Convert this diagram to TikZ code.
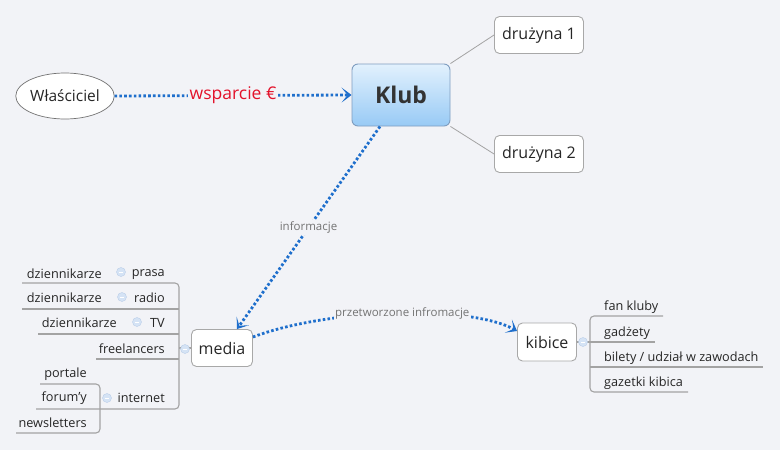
\documentclass[tikz,border=0pt]{standalone}
\usepackage{fontspec}
\setmainfont{Open Sans}
\usetikzlibrary{arrows.meta,shapes.geometric}
\definecolor{bgcol}{HTML}{F2F3F7}
\definecolor{flowblue}{HTML}{1F6FCC}
\definecolor{linegray}{HTML}{A3A3A3}
\definecolor{boxgray}{HTML}{A8A8A8}
\definecolor{klubtop}{HTML}{E2F1FD}
\definecolor{klubbot}{HTML}{98CAF5}
\definecolor{klubedge}{HTML}{7F9DC0}
\definecolor{supportred}{HTML}{E3122B}
\definecolor{knobfill}{HTML}{D5E3F5}
\definecolor{knobedge}{HTML}{BACDE8}

\tikzset{
  topic/.style={draw=boxgray, fill=white, rounded corners=5pt, line width=0.9pt,
    font=\fontsize{16}{18}\selectfont, text=black!85, inner sep=0pt},
  leaf/.style={font=\fontsize{12.7}{14}\selectfont, text=black!85, inner sep=0pt},
  flow/.style={flowblue, line width=2.8pt, dash pattern=on 2.6pt off 2.2pt,
    -{Stealth[length=10pt,width=15pt,inset=6pt]}},
  flowlabel/.style={fill=bgcol, inner sep=1.5pt, text=black!55,
    font=\fontsize{11.5}{13}\selectfont},
  branch/.style={linegray, line width=1.1pt, rounded corners=4pt},
  knob/.style={circle, draw=knobedge, fill=knobfill, minimum size=9pt, inner sep=0pt,
    path picture={\draw[white, line width=0.8pt] (-2pt,0) -- (2pt,0);}},
}

\begin{document}
\begin{tikzpicture}[x=1pt, y=-1pt]
  \fill[bgcol] (0,0) rectangle (780,450);
  \useasboundingbox (0,0) rectangle (780,450);

  \node[ellipse, draw=black!55, fill=white, line width=0.7pt, minimum width=93pt, minimum height=46pt,
    inner sep=0pt, font=\fontsize{15.5}{18}\selectfont, text=black!85] (owner) at (65,96) {Właściciel};
  \node[draw=klubedge, rounded corners=6pt, line width=0.9pt, top color=klubtop, bottom color=klubbot,
    minimum width=98pt, minimum height=62pt, text=black!80,
    font=\fontsize{23}{26}\selectfont\bfseries] (klub) at (401,95) {Klub};
  \node[topic, minimum width=89pt, minimum height=37pt] (team1) at (539,35) {drużyna 1};
  \node[topic, minimum width=89pt, minimum height=37pt] (team2) at (539,154) {drużyna 2};
  \node[topic, minimum width=61pt, minimum height=37pt] (media) at (222,348) {media};
  \node[topic, minimum width=59pt, minimum height=38pt] (fans) at (547,342) {kibice};

  \draw[linegray, line width=0.8pt] (klub.north east) -- (team1.west);
  \draw[linegray, line width=0.8pt] (klub.south east) -- (team2.west);

  \draw[flow] (owner.east) -- node[fill=bgcol, inner sep=1.5pt, text=supportred,
    font=\fontsize{17.5}{20}\selectfont] (support) {wsparcie €} (klub.west);
  \draw[flow] ([xshift=-21pt]klub.south) -- node[flowlabel] (info) {informacje}
    ([xshift=15pt]media.north);
  \draw[flow] ([yshift=11pt]media.east) .. controls (330,308) and (470,305) ..
    node[flowlabel, pos=0.52] (procinfo) {przetworzone infromacje} ([yshift=11pt]fans.west);

  % kibice
  \draw[branch] (fans.east) -- (655,342);
  \draw[branch] (663,316) -- (590,316) -- (590,392) -- (688,392);
  \draw[branch] (590,367) -- (763,367);
  \node[knob] (fansknob) at (583,342) {};
  \node[leaf, anchor=base west] (fanclub) at (604,310) {fan kluby};
  \node[leaf, anchor=base west] (gadgets) at (604,336) {gadżety};
  \node[leaf, anchor=base west] (tickets) at (604,361) {bilety / udział w zawodach};
  \node[leaf, anchor=base west] (zines) at (604,386) {gazetki kibica};

  % media
  \draw[branch] (media.west) -- (179,348);
  \draw[branch] (22,283) -- (179,283) -- (179,409) -- (36,409);
  \draw[branch] (22,309) -- (179,309);
  \draw[branch] (38,334) -- (179,334);
  \draw[branch] (96,359) -- (179,359);
  \draw[branch] (40,384) -- (100,384) -- (100,433) -- (16,433);
  \node[knob] (mediaknob) at (185,349) {};

  \node[leaf, anchor=base east] (press) at (165,276) {prasa};
  \node[knob] (pressknob) at (121,272) {};
  \node[leaf, anchor=base east] (pressj) at (102,278) {dziennikarze};
  \node[leaf, anchor=base east] (radio) at (165,302) {radio};
  \node[knob] (radioknob) at (122,297) {};
  \node[leaf, anchor=base east] (radioj) at (102,302) {dziennikarze};
  \node[leaf, anchor=base east] (tv) at (165,327) {TV};
  \node[knob] (tvknob) at (137,322) {};
  \node[leaf, anchor=base east] (tvj) at (117,327) {dziennikarze};
  \node[leaf, anchor=base east] (freel) at (165,353) {freelancers};
  \node[leaf, anchor=base east] (net) at (165,402) {internet};
  \node[knob] (netknob) at (107,398) {};
  \node[leaf, anchor=base east] (portals) at (87,377) {portale};
  \node[leaf, anchor=base east] (forums) at (87,401) {forum{\char"27}y};
  \node[leaf, anchor=base east] (letters) at (87,427) {newsletters};
\end{tikzpicture}
\end{document}
